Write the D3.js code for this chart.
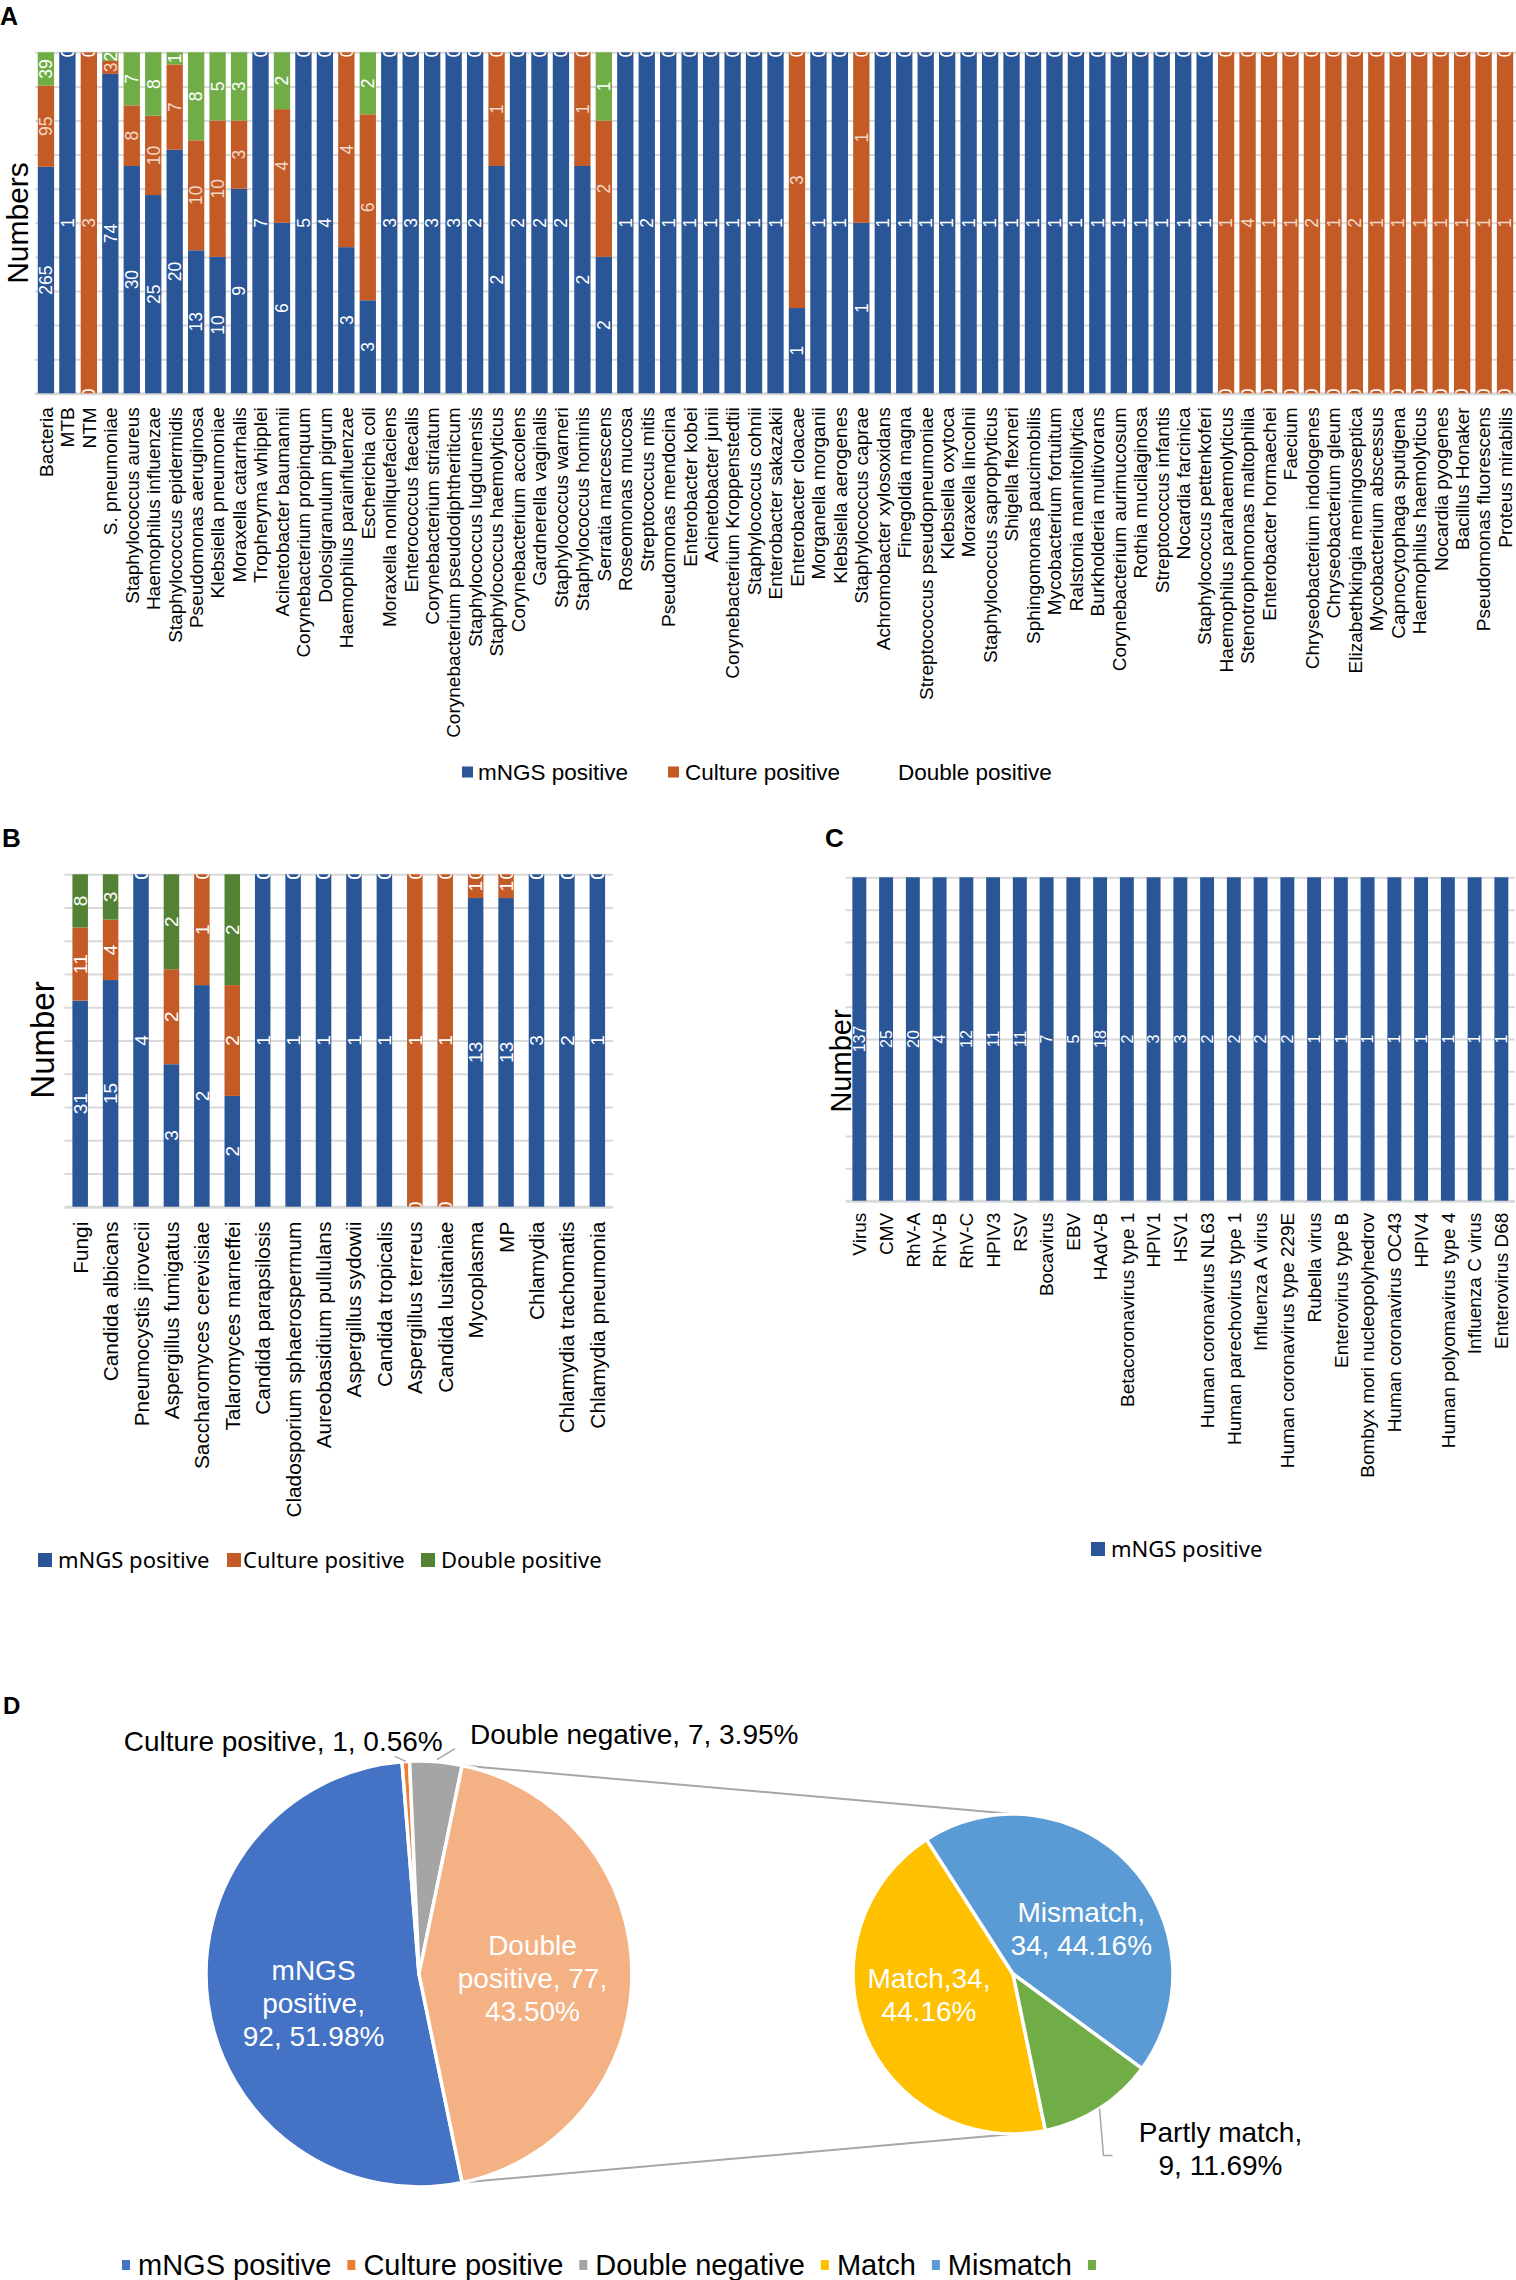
<!DOCTYPE html>
<html>
<head>
<meta charset="utf-8">
<script src="https://cdn.jsdelivr.net/npm/d3@7"></script>
<style>
  body { margin: 0; background: #fff; }
  svg { display: block; }
  svg text { font-family: "Liberation Sans", Arial, sans-serif; }
</style>
</head>
<body>
<svg id="fig" width="1516" height="2280"></svg>
<script>
// ---- Panel A: bacteria ----
const bacteriaNames = [
  "Bacteria", "MTB", "NTM", "S. pneumoniae", "Staphylococcus aureus", "Haemophilus influenzae",
  "Staphylococcus epidermidis", "Pseudomonas aeruginosa", "Klebsiella pneumoniae", "Moraxella catarrhalis",
  "Tropheryma whipplei", "Acinetobacter baumannii", "Corynebacterium propinquum", "Dolosigranulum pigrum",
  "Haemophilus parainfluenzae", "Escherichia coli", "Moraxella nonliquefaciens", "Enterococcus faecalis",
  "Corynebacterium striatum", "Corynebacterium pseudodiphtheriticum", "Staphylococcus lugdunensis",
  "Staphylococcus haemolyticus", "Corynebacterium accolens", "Gardnerella vaginalis", "Staphylococcus warneri",
  "Staphylococcus hominis", "Serratia marcescens", "Roseomonas mucosa", "Streptococcus mitis",
  "Pseudomonas mendocina", "Enterobacter kobei", "Acinetobacter junii", "Corynebacterium Kroppenstedtii",
  "Staphylococcus cohnii", "Enterobacter sakazakii", "Enterobacter cloacae", "Morganella morganii",
  "Klebsiella aerogenes", "Staphylococcus caprae", "Achromobacter xylosoxidans", "Finegoldia magna",
  "Streptococcus pseudopneumoniae", "Klebsiella oxytoca", "Moraxella lincolnii", "Staphylococcus saprophyticus",
  "Shigella flexneri", "Sphingomonas paucimobilis", "Mycobacterium fortuitum", "Ralstonia mannitolilytica",
  "Burkholderia multivorans", "Corynebacterium aurimucosum", "Rothia mucilaginosa", "Streptococcus infantis",
  "Nocardia farcinica", "Staphylococcus pettenkoferi", "Haemophilus parahaemolyticus",
  "Stenotrophomonas maltophilia", "Enterobacter hormaechei", "Faecium", "Chryseobacterium indologenes",
  "Chryseobacterium gleum", "Elizabethkingia meningoseptica", "Mycobacterium abscessus",
  "Capnocytophaga sputigena", "Haemophilus haemolyticus", "Nocardia pyogenes", "Bacillus Honaker",
  "Pseudomonas fluorescens", "Proteus mirabilis"
];
const bacteriaMngs = [
  265, 1, 0, 74, 30, 25, 20, 13, 10, 9, 7, 6, 5, 4, 3, 3, 3, 3, 3, 3, 2, 2, 2, 2, 2, 2, 2, 1, 2, 1,
  1, 1, 1, 1, 1, 1, 1, 1, 1, 1, 1, 1, 1, 1, 1, 1, 1, 1, 1, 1, 1, 1, 1, 1, 1,
  0, 0, 0, 0, 0, 0, 0, 0, 0, 0, 0, 0, 0, 0
];
const bacteriaCulture = [
  95, 0, 3, 3, 8, 10, 7, 10, 10, 3, 0, 4, 0, 0, 4, 6, 0, 0, 0, 0, 0, 1, 0, 0, 0, 1, 2, 0, 0, 0,
  0, 0, 0, 0, 0, 3, 0, 0, 1, 0, 0, 0, 0, 0, 0, 0, 0, 0, 0, 0, 0, 0, 0, 0, 0,
  1, 4, 1, 1, 2, 1, 2, 1, 1, 1, 1, 1, 1, 1
];
const bacteriaDouble = [
  39, 0, 0, 2, 7, 8, 1, 8, 5, 3, 0, 2, 0, 0, 0, 2, 0, 0, 0, 0, 0, 0, 0, 0, 0, 0, 1, 0, 0, 0,
  0, 0, 0, 0, 0, 0, 0, 0, 0, 0, 0, 0, 0, 0, 0, 0, 0, 0, 0, 0, 0, 0, 0, 0, 0,
  0, 0, 0, 0, 0, 0, 0, 0, 0, 0, 0, 0, 0, 0
];

// ---- Panel B: fungi and others ----
const fungiNames = [
  "Fungi", "Candida albicans", "Pneumocystis jirovecii", "Aspergillus fumigatus", "Saccharomyces cerevisiae",
  "Talaromyces marneffei", "Candida parapsilosis", "Cladosporium sphaerospermum", "Aureobasidium pullulans",
  "Aspergillus sydowii", "Candida tropicalis", "Aspergillus terreus", "Candida lusitaniae", "Mycoplasma",
  "MP", "Chlamydia", "Chlamydia trachomatis", "Chlamydia pneumonia"
];
const fungiMngs = [31, 15, 4, 3, 2, 2, 1, 1, 1, 1, 1, 0, 0, 13, 13, 3, 2, 1];
const fungiCulture = [11, 4, 0, 2, 1, 2, 0, 0, 0, 0, 0, 1, 1, 1, 1, 0, 0, 0];
const fungiDouble = [8, 3, 0, 2, 0, 2, 0, 0, 0, 0, 0, 0, 0, 0, 0, 0, 0, 0];

// ---- Panel C: viruses ----
const virusNames = [
  "Virus", "CMV", "RhV-A", "RhV-B", "RhV-C", "HPIV3", "RSV", "Bocavirus", "EBV", "HAdV-B",
  "Betacoronavirus type 1", "HPIV1", "HSV1", "Human coronavirus NL63", "Human parechovirus type 1",
  "Influenza A virus", "Human coronavirus type 229E", "Rubella virus", "Enterovirus type B",
  "Bombyx mori nucleopolyhedrov", "Human coronavirus OC43", "HPIV4", "Human polyomavirus type 4",
  "Influenza C virus", "Enterovirus D68"
];
const virusMngs = [137, 25, 20, 4, 12, 11, 11, 7, 5, 18, 2, 3, 3, 2, 2, 2, 2, 1, 1, 1, 1, 1, 1, 1, 1];

// ---- Panel D: pie of pie ----
const primaryNames = ["mNGS positive", "Culture positive", "Double negative", "Double positive"];
const primaryValues = [92, 1, 7, 77];
const secondaryNames = ["Match", "Mismatch", "Partly match"];
const secondaryValues = [34, 34, 9];

const seriesKeys = ["mNGS positive", "Culture positive", "Double positive"];

const BLUE = "#2a5596", ORANGE = "#c45b26";
const svg = d3.select("#fig");
const defs = svg.append("defs");

function panelLetter(t, x, y, size) {
  svg.append("text").attr("x", x).attr("y", y)
    .style("font-size", size + "px").style("font-weight", "bold").text(t);
}

function stackedPanel(o) {
  const g = svg.append("g");
  const x = d3.scaleBand().domain(o.names).range([o.left, o.right])
    .paddingInner(o.padIn).paddingOuter(o.padOut);
  const y = d3.scaleLinear().domain([0, 1]).range([o.bottom, o.top]);

  // gridlines every 10 %
  const grid = g.append("g").attr("transform", `translate(${o.left},0)`)
    .call(d3.axisLeft(y).ticks(10).tickSize(-(o.right - o.left)).tickFormat(""));
  grid.select(".domain").remove();
  grid.selectAll("line").attr("stroke", "#d9d9d9").attr("stroke-width", d => d === 0 ? 3 : 2);

  const rows = o.names.map((name, i) => {
    const r = { name };
    o.keys.forEach((k, j) => (r[k] = o.values[j][i]));
    return r;
  });
  const layers = d3.stack().keys(o.keys).offset(d3.stackOffsetExpand)(rows);

  g.append("g").selectAll("g").data(layers).join("g")
    .attr("fill", (d, i) => o.colors[i])
    .selectAll("rect").data(d => d).join("rect")
    .attr("x", d => x(d.data.name))
    .attr("width", x.bandwidth())
    .attr("y", d => y(d[1]))
    .attr("height", d => y(d[0]) - y(d[1]));

  // value labels, clipped to the plot area like the original
  defs.append("clipPath").attr("id", o.id + "-clip").append("rect")
    .attr("x", o.left).attr("y", o.top)
    .attr("width", o.right - o.left).attr("height", o.bottom - o.top);
  g.append("g").attr("clip-path", `url(#${o.id}-clip)`)
    .selectAll("g").data(layers).join("g")
    .attr("fill", (d, i) => o.labelColors[i])
    .selectAll("text").data(d => d.map(s => ({ s, key: d.key }))).join("text")
    .attr("transform", d =>
      `translate(${x(d.s.data.name) + x.bandwidth() / 2},${y((d.s[0] + d.s[1]) / 2)}) rotate(-90)`)
    .attr("text-anchor", "middle")
    .attr("dy", "0.36em")
    .style("font-size", o.valFont + "px")
    .text(d => d.s.data[d.key]);

  // category axis
  const ax = g.append("g").attr("transform", `translate(0,${o.bottom})`)
    .call(d3.axisBottom(x).tickSize(0));
  ax.select(".domain").remove();
  ax.selectAll("text")
    .attr("transform", "rotate(-90)")
    .attr("x", -o.labelGap).attr("y", 0).attr("dy", "0.36em")
    .attr("text-anchor", "end").attr("fill", "#000")
    .style("font-size", o.catFont + "px")
    .style("font-family", '"Liberation Sans", Arial, sans-serif');

  // y title
  g.append("text")
    .attr("transform", `translate(${o.titleX},${o.titleY}) rotate(-90)`)
    .attr("text-anchor", "middle").attr("dy", "0.36em")
    .style("font-size", o.titleFont + "px")
    .text(o.yTitle);

  // legend
  const lg = g.append("g");
  o.legend.forEach(it => {
    if (it.color) {
      lg.append("rect").attr("x", it.sx).attr("y", o.legendY - it.size / 2)
        .attr("width", it.size).attr("height", it.size).attr("fill", it.color);
    }
    lg.append("text").attr("x", it.tx).attr("y", o.legendY).attr("dy", "0.35em")
      .style("font-size", o.legendFont + "px")
      .style("font-family", o.legendFamily)
      .text(it.label);
  });
}

// ---------- A ----------
panelLetter("A", 0, 25, 25);
stackedPanel({
  id: "a", names: bacteriaNames, keys: seriesKeys,
  values: [bacteriaMngs, bacteriaCulture, bacteriaDouble],
  colors: [BLUE, ORANGE, "#70ad47"],
  labelColors: ["#ffffff", "#f3d8c8", "#ffffff"],
  left: 35, right: 1516, top: 52.3, bottom: 393.3, padIn: 0.24, padOut: 0.13,
  valFont: 17.5, catFont: 19, labelGap: 14,
  yTitle: "Numbers", titleX: 17, titleY: 223, titleFont: 30,
  legendY: 772, legendFont: 22.5, legendFamily: '"Liberation Sans", Arial, sans-serif',
  legend: [
    { label: "mNGS positive", color: BLUE, sx: 462, tx: 478, size: 11 },
    { label: "Culture positive", color: ORANGE, sx: 668, tx: 685, size: 11 },
    { label: "Double positive", color: null, sx: 0, tx: 898, size: 11 }
  ]
});

// ---------- B ----------
panelLetter("B", 2, 847, 26);
stackedPanel({
  id: "b", names: fungiNames, keys: seriesKeys,
  values: [fungiMngs, fungiCulture, fungiDouble],
  colors: [BLUE, ORANGE, "#548235"],
  labelColors: ["#ffffff", "#ffffff", "#ffffff"],
  left: 64.5, right: 613, top: 874.3, bottom: 1206.7, padIn: 0.49, padOut: 0.26,
  valFont: 19, catFont: 20.8, labelGap: 15,
  yTitle: "Number", titleX: 42.5, titleY: 1040, titleFont: 33,
  legendY: 1560, legendFont: 22, legendFamily: '"Noto Sans", "Open Sans", sans-serif',
  legend: [
    { label: "mNGS positive", color: BLUE, sx: 38, tx: 58, size: 14 },
    { label: "Culture positive", color: ORANGE, sx: 227, tx: 243, size: 14 },
    { label: "Double positive", color: "#548235", sx: 421, tx: 441, size: 14 }
  ]
});

// ---------- C ----------
panelLetter("C", 825, 847, 26);
stackedPanel({
  id: "c", names: virusNames, keys: ["mNGS positive"],
  values: [virusMngs],
  colors: [BLUE],
  labelColors: ["#ffffff"],
  left: 845.7, right: 1515, top: 877.3, bottom: 1200.7, padIn: 0.48, padOut: 0.25,
  valFont: 16, catFont: 19, labelGap: 12,
  yTitle: "Number", titleX: 841, titleY: 1061, titleFont: 29,
  legendY: 1549, legendFont: 22, legendFamily: '"Noto Sans", "Open Sans", sans-serif',
  legend: [
    { label: "mNGS positive", color: BLUE, sx: 1091, tx: 1111, size: 14 }
  ]
});

// ---------- D ----------
panelLetter("D", 3, 1714, 24);
const primaryColors = ["#4472c4", "#ed7d31", "#a5a5a5", "#f4b183"];
const secondaryColors = ["#ffc000", "#5b9bd5", "#70ad47"];
const p1 = { cx: 419, cy: 1974, r: 213 };
const p2 = { cx: 1013, cy: 1974, r: 160 };
const total1 = d3.sum(primaryValues);
const total2 = d3.sum(secondaryValues);
// the "other" slice (Double positive) faces the secondary pie (centred at 3 o'clock)
const start = Math.PI / 2
  - 2 * Math.PI * d3.sum(primaryValues.slice(0, 3)) / total1
  - Math.PI * primaryValues[3] / total1;
const pie = d3.pie().sort(null).startAngle(start).endAngle(start + 2 * Math.PI);
const arcs1 = pie(primaryValues);
const arcs2 = pie(secondaryValues);
const pt = (p, r, a) => [p.cx + r * Math.sin(a), p.cy - r * Math.cos(a)];
const pct = (v, t) => (v / t * 100).toFixed(2) + "%";

const gd = svg.append("g");
// connector lines between the pies
const other = arcs1[3];
[[other.startAngle, 0], [other.endAngle, Math.PI]].forEach(([a1, a2]) => {
  const s = pt(p1, p1.r, a1), e = pt(p2, p2.r, a2);
  gd.append("line").attr("x1", s[0]).attr("y1", s[1]).attr("x2", e[0]).attr("y2", e[1])
    .attr("stroke", "#a6a6a6").attr("stroke-width", 2);
});

function drawPie(p, arcs, colors) {
  const arc = d3.arc().innerRadius(0).outerRadius(p.r);
  gd.append("g").attr("transform", `translate(${p.cx},${p.cy})`)
    .selectAll("path").data(arcs).join("path")
    .attr("d", arc)
    .attr("fill", (d, i) => colors[i])
    .attr("stroke", "#fff").attr("stroke-width", 3.5).attr("stroke-linejoin", "round");
  return arc;
}
const arc1 = drawPie(p1, arcs1, primaryColors);
const arc2 = drawPie(p2, arcs2, secondaryColors);

function multiLine(x, y, lines, color, anchor) {
  const lh = 33;
  const t = gd.append("text").attr("text-anchor", anchor).attr("fill", color)
    .style("font-size", "28px");
  lines.forEach((l, i) => {
    t.append("tspan").attr("x", x)
      .attr("y", y + (i - (lines.length - 1) / 2) * lh)
      .attr("dy", "0.36em").text(l);
  });
}
function leader(points) {
  gd.append("path").attr("d", d3.line()(points))
    .attr("fill", "none").attr("stroke", "#a6a6a6").attr("stroke-width", 1.5);
}
const mid = d => (d.startAngle + d.endAngle) / 2;

// primary labels
{
  const [wm, wp] = primaryNames[0].split(" ");
  const c = arc1.centroid(arcs1[0]);
  multiLine(p1.cx + c[0], p1.cy + c[1] + 14, [wm, wp + ",",
    `${primaryValues[0]}, ${pct(primaryValues[0], total1)}`], "#fff", "middle");

  const o1 = pt(p1, p1.r, mid(arcs1[1]));
  leader([o1, [o1[0] - 11, o1[1] - 5]]);
  multiLine(o1[0] + 37, o1[1] - 20,
    [`${primaryNames[1]}, ${primaryValues[1]}, ${pct(primaryValues[1], total1)}`], "#000", "end");

  const o2 = pt(p1, p1.r, mid(arcs1[2]));
  leader([[o2[0] + 1, o2[1] - 2], [o2[0] + 19, o2[1] - 13]]);
  multiLine(o2[0] + 34, o2[1] - 28,
    [`${primaryNames[2]}, ${primaryValues[2]}, ${pct(primaryValues[2], total1)}`], "#000", "start");

  const [wd, wq] = primaryNames[3].split(" ");
  const c3 = arc1.centroid(arcs1[3]);
  multiLine(p1.cx + c3[0] + 7, p1.cy + c3[1] + 4, [wd, `${wq}, ${primaryValues[3]},`,
    pct(primaryValues[3], total1)], "#fff", "middle");
}
// secondary labels
{
  const c0 = arc2.centroid(arcs2[0]);
  multiLine(p2.cx + c0[0] - 10, p2.cy + c0[1] - 10,
    [`${secondaryNames[0]},${secondaryValues[0]},`, pct(secondaryValues[0], total2)], "#fff", "middle");
  const c1 = arc2.centroid(arcs2[1]);
  multiLine(p2.cx + c1[0] + 10, p2.cy + c1[1] + 9,
    [`${secondaryNames[1]},`, `${secondaryValues[1]}, ${pct(secondaryValues[1], total2)}`], "#fff", "middle");
  const o = pt(p2, p2.r, mid(arcs2[2]));
  leader([o, [o[0] + 4, o[1] + 47], [o[0] + 13, o[1] + 47]]);
  multiLine(o[0] + 121, o[1] + 40,
    [`${secondaryNames[2]},`, `${secondaryValues[2]}, ${pct(secondaryValues[2], total2)}`], "#000", "middle");
}

// legend D
{
  const legendNames = primaryNames.slice(0, 3).concat(secondaryNames);
  const legendColors = primaryColors.slice(0, 3).concat(secondaryColors);
  const ly = 2265;
  let lx = 122;
  legendNames.forEach((n, i) => {
    gd.append("rect").attr("x", lx).attr("y", ly - 5).attr("width", 8).attr("height", 10)
      .attr("fill", legendColors[i]);
    if (i === legendNames.length - 1) return; // last entry's text is cut off in the original
    const t = gd.append("text").attr("x", lx + 16).attr("y", ly).attr("dy", "0.36em")
      .style("font-size", "29px").text(n);
    lx += 16 + t.node().getComputedTextLength() + 16;
  });
}
</script>
</body>
</html>
